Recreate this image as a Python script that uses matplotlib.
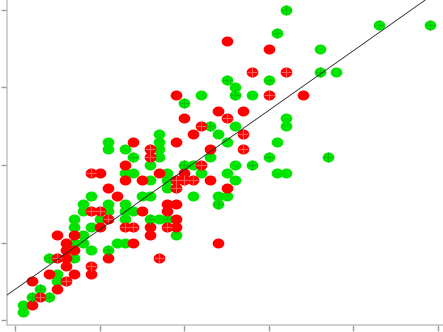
import numpy as np
import matplotlib
matplotlib.use("Agg")
import matplotlib.pyplot as plt
from matplotlib.path import Path

# data (0.1 grid)
red_x = [2.5, 3.0, 2.8, 3.2, 1.9, 3.0, 3.4, 2.4, 2.7,
         2.0, 2.2, 2.5, 2.1, 2.7, 1.9, 1.6, 2.3, 2.7, 1.6, 2.2, 1.7, 2.0, 1.5, 1.9, 2.0,
         2.1, 2.3, 1.9, 2.5, 1.8, 1.9, 1.8, 1.5, 1.9,
         1.6, 1.8, 1.9, 1.6, 2.4, 1.7,
         1.4, 1.3, 0.9, 1.0, 1.3, 1.1, 1.2, 0.9, 1.0, 1.1,
         1.0, 1.4, 1.3, 0.5, 0.7, 0.6, 1.4, 0.6, 0.7, 1.1, 0.5, 0.6, 0.6, 0.9, 0.4, 0.7,
         0.9, 0.6, 0.2, 0.5, 0.3, 0.2]
red_y = [3.6, 3.5, 3.2, 3.2, 2.9, 2.9, 2.9, 2.7, 2.7,
         2.6, 2.5, 2.6, 2.4, 2.4, 2.3, 2.2, 2.2, 2.2, 2.1, 2.0, 1.9, 1.9, 1.8, 1.8, 1.8,
         1.8, 1.8, 1.7, 1.7, 1.5, 1.5, 1.4, 1.4, 1.3,
         1.2, 1.2, 1.2, 1.1, 1.0, 0.8,
         2.3, 2.0, 1.9, 1.9, 1.8, 1.7, 1.6, 1.4, 1.4, 1.3,
         1.2, 1.2, 1.2, 1.1, 1.1, 1.0, 1.0, 0.9, 0.9, 0.8, 0.8, 0.8, 0.7, 0.7, 0.6, 0.6,
         0.6, 0.5, 0.5, 0.4, 0.3, 0.2]
red_dup = [0, 0, 1, 1, 0, 1, 0, 0, 0,
           0, 1, 1, 0, 1, 0, 1, 0, 1, 1, 1, 0, 0, 0, 1, 1,
           1, 0, 1, 0, 0, 0, 0, 0, 0,
           0, 1, 0, 0, 0, 1,
           0, 0, 1, 0, 0, 0, 0, 1, 1, 1,
           0, 1, 1, 0, 0, 0, 0, 0, 0, 0, 1, 0, 0, 1, 0, 0,
           0, 1, 0, 0, 1, 0]

green_x = [3.2, 3.1, 2.5, 3.0, 2.6, 2.2, 2.6, 2.8, 2.0, 4.3, 4.9, 3.6, 3.6, 3.8, 3.7,
           2.3, 2.6, 3.2, 3.2, 1.7, 2.4, 1.7, 2.5, 3.1, 1.7, 1.7, 2.3, 3.0, 1.6, 2.0,
           2.1, 2.6, 2.8, 1.8, 2.2, 2.5, 3.1, 3.2, 1.6, 1.8, 2.6, 1.8, 1.6, 2.1, 2.4,
           2.5, 2.4, 1.6, 1.7, 1.8,
           1.9,
           1.1, 1.1, 1.3, 1.4, 1.3, 1.4, 0.9, 1.5, 0.8, 1.1, 1.3, 0.8, 1.1, 1.3, 1.4,
           0.7, 1.0, 1.3,
           0.7, 0.8, 0.9, 0.7, 0.8, 0.9, 1.2, 1.3, 1.1, 0.4, 0.7, 0.5, 0.5, 0.3, 0.2,
           0.4, 0.1, 0.1]
green_y = [4.0, 3.7, 3.1, 3.1, 3.0, 2.9, 2.9, 2.9, 2.8, 3.8, 3.8, 3.5, 3.2, 3.2, 2.1,
           2.5, 2.5, 2.6, 2.5, 2.4, 2.4, 2.3, 2.3, 2.3, 2.2, 2.1, 2.1, 2.1, 2.0, 2.0,
           2.0, 2.0, 2.0, 1.9, 1.9, 1.9, 1.9, 1.9, 1.8, 1.8, 1.8, 1.7, 1.6, 1.6, 1.6,
           1.6, 1.5, 1.3, 1.3, 1.3,
           1.1,
           2.3, 2.2, 2.2, 2.1, 1.9, 1.9, 1.6, 1.6, 1.5, 1.5, 1.5, 1.4, 1.4, 1.4, 1.4,
           1.3, 1.3, 1.3,
           1.2, 1.1, 1.2, 1.0, 1.0, 0.9, 1.0, 1.0, 0.9, 0.8, 0.8, 0.6, 0.5, 0.4, 0.3,
           0.3, 0.2, 0.1]
green_dup = [1, 1, 1, 1, 0, 0, 1, 0, 1, 1, 1, 0, 1, 0, 1,
             1, 0, 0, 0, 0, 0, 0, 0, 0, 0, 0, 0, 1, 0, 1,
             0, 0, 1, 0, 0, 0, 0, 0, 0, 0, 0, 0, 0, 0, 0,
             0, 1, 1, 0, 1,
             0,
             0, 0, 0, 1, 0, 0, 0, 0, 0, 0, 0, 0, 0, 0, 0,
             0, 0, 0,
             0, 0, 0, 0, 0, 0, 0, 0, 1, 1, 0, 0, 0, 1, 1,
             1, 0, 0]

# fitted line
slope = 0.77
intercept = 0.395

x_ticks = [0, 1, 2, 3, 4, 5]
y_ticks = [0, 1, 2, 3, 4]

# wide ellipse marker
t = np.linspace(0, 2 * np.pi, 60)
ellipse = Path(np.column_stack([1.17 * np.cos(t), np.sin(t)]), closed=True)

fig = plt.figure(figsize=(4.43, 3.32), dpi=100)
ax = fig.add_axes([7 / 443, 7 / 332, 436 / 443, 325 / 332])

series = [(green_x, green_y, green_dup, '#00e400', '#00c400'),
          (red_x, red_y, red_dup, '#ff0000', '#ff5a5a')]
for xs, ys, dup, col, pcol in series:
    xs = np.array(xs)
    ys = np.array(ys)
    dup = np.array(dup, dtype=bool)
    ax.scatter(xs, ys, s=8.4 ** 2, marker=ellipse, c=col, linewidths=0, zorder=2)
    ax.scatter(xs[dup], ys[dup], s=7.5 ** 2, marker='+', c=pcol, linewidths=0.8, zorder=3)

xl = np.array([-0.2, 5.2])
ax.plot(xl, intercept + slope * xl, color='#222222', lw=0.6, zorder=4)

ax.set_xlim(-0.0946, 5.059)
ax.set_ylim(-0.0645, 4.129)
ax.set_xticks(x_ticks)
ax.set_yticks(y_ticks)
ax.set_xticklabels([])
ax.set_yticklabels([])
ax.tick_params(direction='out', length=4.5, width=1.0, color='#999999')

for side in ['top', 'right']:
    ax.spines[side].set_visible(False)
for side in ['left', 'bottom']:
    ax.spines[side].set_color('#c8c8c8')
    ax.spines[side].set_linewidth(1.2)

fig.savefig("out.png", dpi=100)
